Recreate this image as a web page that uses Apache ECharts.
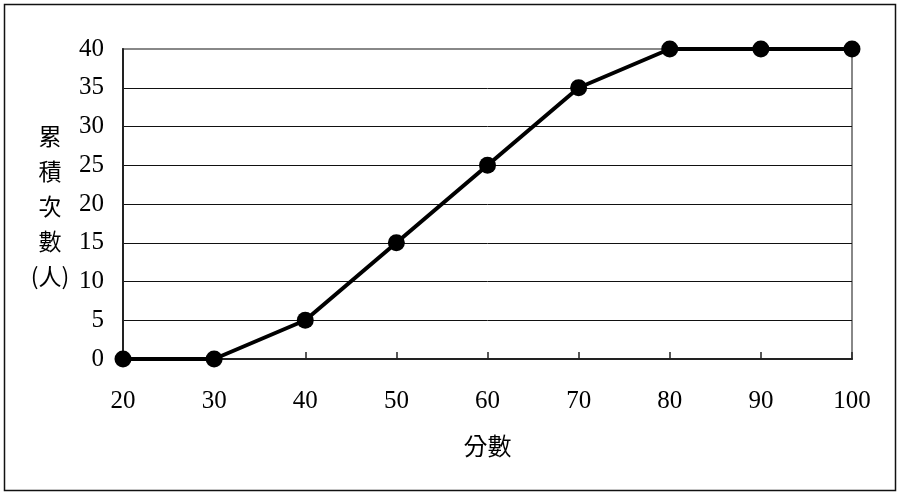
<!DOCTYPE html>
<html><head><meta charset="utf-8">
<script src="https://cdn.jsdelivr.net/npm/echarts@6/dist/echarts.min.js"></script>
<style>html,body{margin:0;padding:0;background:#fff}#c{width:900px;height:495px}</style>
</head><body><div id="c"></div>
<script>
const scores = [20, 30, 40, 50, 60, 70, 80, 90, 100];
const cumCounts = [0, 0, 5, 15, 25, 35, 40, 40, 40];
const yTitle = '累\n積\n次\n數\n(人)';
const xTitle = '分數';

const chart = echarts.init(document.getElementById('c'), null, {renderer: 'canvas'});
const serif = '"Liberation Serif", "Times New Roman", serif';
const cjk = '"Noto Sans CJK TC", sans-serif';
chart.setOption({
  animation: false,
  grid: {left: 123, right: 48, top: 49, bottom: 136, show: true, borderColor: '#888', borderWidth: 2, backgroundColor: 'transparent'},
  xAxis: {
    type: 'value', min: 20, max: 100, interval: 10,
    name: xTitle, nameLocation: 'middle', nameGap: 75,
    nameTextStyle: {fontFamily: cjk, fontSize: 24, color: '#000'},
    axisLine: {show: true, lineStyle: {color: '#222', width: 2}},
    axisTick: {show: true, inside: true, length: 7, lineStyle: {color: '#222', width: 1.5}},
    axisLabel: {fontFamily: serif, fontSize: 25, color: '#000', margin: 30},
    splitLine: {show: false}
  },
  yAxis: {
    type: 'value', min: 0, max: 40, interval: 5,
    axisLine: {show: true, lineStyle: {color: '#222', width: 2}},
    axisTick: {show: false},
    axisLabel: {fontFamily: serif, fontSize: 25, color: '#000', margin: 19},
    splitLine: {show: true, lineStyle: {color: ['#111','#111','#111','#111','#111','#111','#111','#111','#888'], width: 1}}
  },
  graphic: [
    {type: 'rect', shape: {x: 4.5, y: 4.5, width: 891, height: 486}, style: {fill: 'none', stroke: '#111', lineWidth: 1.5}, z: 0},
    {type: 'text', x: 50, y: 206, style: {text: yTitle, fontFamily: cjk, fontSize: 23, lineHeight: 35, fill: '#000', textAlign: 'center', textVerticalAlign: 'middle', align: 'center', verticalAlign: 'middle'}}
  ],
  series: [{
    type: 'line',
    data: scores.map((s, i) => [s, cumCounts[i]]),
    symbol: 'circle', symbolSize: 17,
    lineStyle: {color: '#000', width: 4},
    itemStyle: {color: '#000'},
    clip: false
  }]
});
</script></body></html>
